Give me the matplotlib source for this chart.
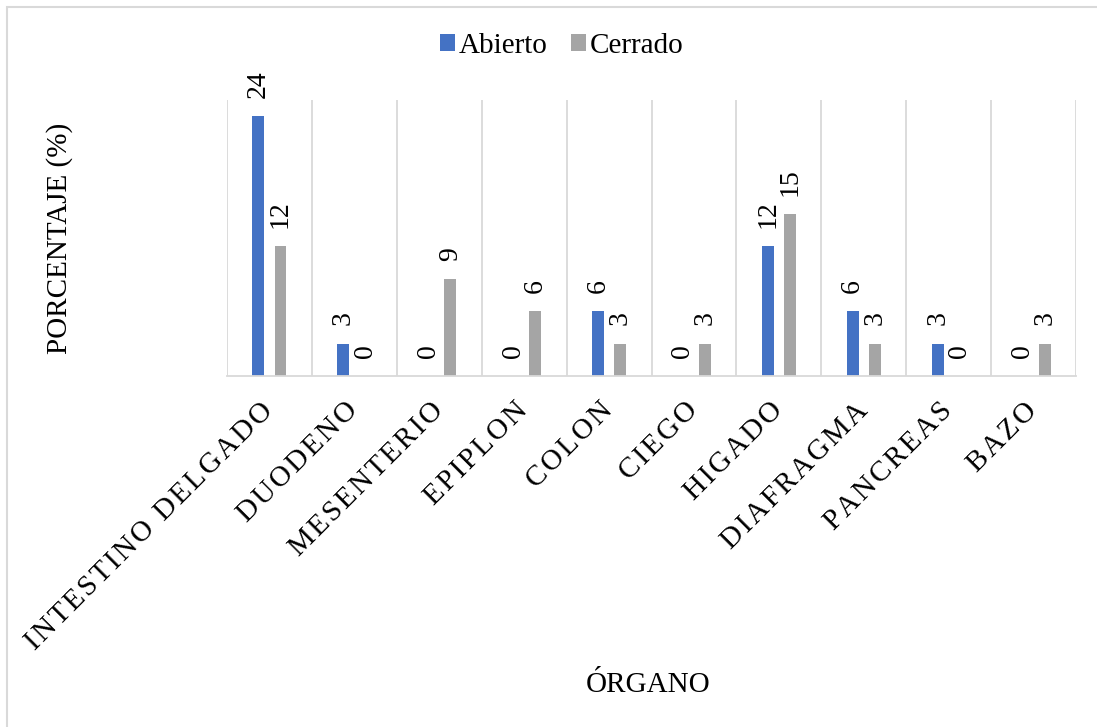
import matplotlib.pyplot as plt
import numpy as np
from matplotlib.patches import Rectangle

organos = ["INTESTINO DELGADO", "DUODENO", "MESENTERIO", "EPIPLON", "COLON",
           "CIEGO", "HIGADO", "DIAFRAGMA", "PANCREAS", "BAZO"]
abierto = [24, 3, 0, 0, 6, 0, 12, 6, 3, 0]
cerrado = [12, 0, 9, 6, 3, 3, 15, 3, 0, 3]

plt.rcParams["font.family"] = ["Liberation Serif", "DejaVu Serif"]

W, H = 1097, 727
fig = plt.figure(figsize=(W / 100, H / 100), dpi=100)
ax = fig.add_axes([227 / W, (H - 376) / H, 849 / W, 276 / H])

x = np.arange(len(organos))
width = 0.14
offset = 0.13
b1 = ax.bar(x - offset, abierto, width, color="#4472C4", label="Abierto")
b2 = ax.bar(x + offset, cerrado, width, color="#A5A5A5", label="Cerrado")

for bars in (b1, b2):
    for rect in bars:
        ax.annotate(f"{rect.get_height():g}",
                    (rect.get_x() + rect.get_width() / 2, rect.get_height()),
                    xytext=(0, 13), textcoords="offset points",
                    rotation=90, ha="center", va="bottom", fontsize=20)

ax.set_xlim(-0.5, len(organos) - 0.5)
ax.set_ylim(0, 25.5)

# vertical separators between categories
for xb in np.arange(-0.5, len(organos), 1.0):
    ax.axvline(xb, color="#D9D9D9", lw=1.3, zorder=0)

for s in ["top", "right", "left"]:
    ax.spines[s].set_visible(False)
ax.spines["bottom"].set_color("#D9D9D9")
ax.spines["bottom"].set_linewidth(1.3)
ax.set_yticks([])
ax.set_xticks(x)
# widen the letter spacing of the category names
espaciado = ["\u200a".join(o) for o in organos]
ax.set_xticklabels(espaciado, rotation=45, ha="right", va="center",
                   rotation_mode="anchor", fontsize=21)
ax.tick_params(axis="x", length=0, pad=22)

fig.text(60 / W, 1 - 238 / H, "PORCENTAJE (%)", rotation=90,
         ha="center", va="center", fontsize=21)
fig.text(648 / W, 1 - 685 / H, "ÓRGANO", ha="center", va="center", fontsize=21)

fig.legend(handles=[b1, b2], loc="center", bbox_to_anchor=(562 / W, 1 - 46 / H),
           ncol=2, frameon=False, fontsize=21, handlelength=0.5, handleheight=0.5,
           handletextpad=0.15, columnspacing=0.8)

fig.add_artist(Rectangle((7 / W, -0.1), 1.2, 1 - 7 / H + 0.1,
                         transform=fig.transFigure, fill=False,
                         edgecolor="#D9D9D9", lw=1.5))

fig.savefig("out.png", dpi=100)
